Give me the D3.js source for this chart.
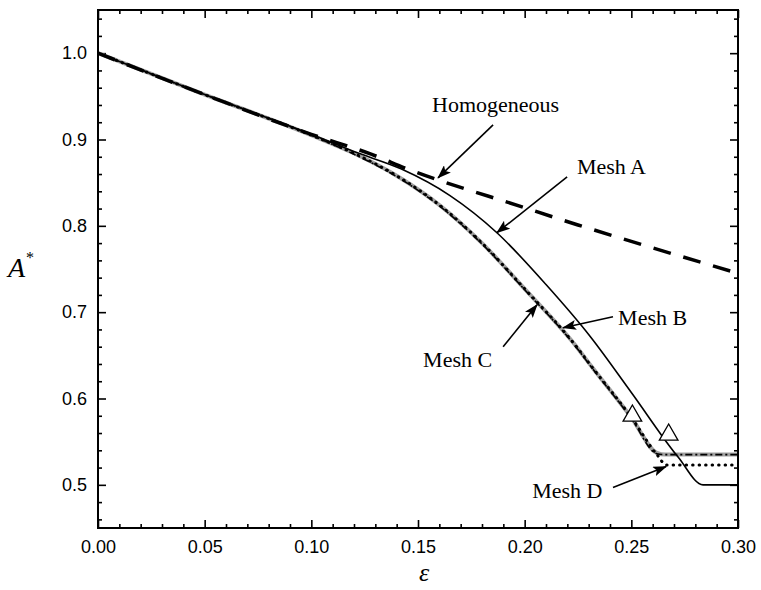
<!DOCTYPE html>
<html>
<head>
<meta charset="utf-8">
<script src="https://cdn.jsdelivr.net/npm/d3@7"></script>
<style>
  html, body { margin: 0; padding: 0; background: #fff; }
  svg { display: block; }
</style>
</head>
<body>
<svg id="chart" width="761" height="590"></svg>
<script>
// ---- data ----
const homogeneous = [[0,1.0],[0.05,0.952],[0.10,0.906],[0.128,0.883],[0.145,0.866],[0.20,0.821],[0.225,0.801],[0.25,0.782],[0.30,0.745]];
const meshA = [[0,1.0],[0.05,0.952],[0.10,0.906],[0.12,0.886],[0.142,0.866],[0.165,0.835],[0.187,0.792],[0.21,0.732],[0.231,0.671],[0.25,0.607],[0.272,0.532],[0.2836,0.50],[0.30,0.50]];
const meshB = [[0,1.0],[0.05,0.952],[0.10,0.905],[0.12,0.884],[0.14,0.858],[0.1606,0.823],[0.18,0.78],[0.20,0.727],[0.223,0.664],[0.232,0.635],[0.25,0.578],[0.262,0.537],[0.266,0.535],[0.30,0.535]];
const meshC = [[0,1.0],[0.05,0.952],[0.10,0.905],[0.12,0.883],[0.14,0.857],[0.1606,0.822],[0.18,0.779],[0.20,0.726],[0.223,0.663],[0.232,0.634],[0.25,0.577],[0.262,0.536],[0.266,0.535],[0.30,0.535]];
const meshD = [[0,1.0],[0.05,0.952],[0.10,0.905],[0.12,0.884],[0.14,0.858],[0.1606,0.823],[0.18,0.78],[0.20,0.727],[0.223,0.664],[0.232,0.635],[0.25,0.578],[0.262,0.535],[0.2665,0.523],[0.30,0.523]];
const triangleMarks = [[0.2505,0.580],[0.2675,0.558]];

const xTicks = [0.00,0.05,0.10,0.15,0.20,0.25,0.30];
const yTicks = [0.5,0.6,0.7,0.8,0.9,1.0];
const xDomain = [0,0.30];
const yDomain = [0.45,1.05];

// annotations: label, text anchor point, arrow tail, arrow tip (data coords)
const annotations = [
  {text:"Homogeneous", at:[0.1566,0.932], from:[0.1852,0.9169], to:[0.1594,0.8556]},
  {text:"Mesh A",      at:[0.2245,0.8602], from:[0.2199,0.8567], to:[0.187,0.792]},
  {text:"Mesh B",      at:[0.2438,0.6854], from:[0.2414,0.6947], to:[0.218,0.682]},
  {text:"Mesh C",      at:[0.1524,0.6368], from:[0.1899,0.660], to:[0.2058,0.7086]},
  {text:"Mesh D",      at:[0.2035,0.4852], from:[0.2414,0.4968], to:[0.2663,0.5211]}
];

// ---- layout ----
const margin = {left:98, top:10, right:761-738, bottom:590-528};
const W = 761, H = 590;
const svg = d3.select("#chart");
const x = d3.scaleLinear().domain(xDomain).range([margin.left, W - margin.right]);
const y = d3.scaleLinear().domain(yDomain).range([H - margin.bottom, margin.top]);

const defs = svg.append("defs");
defs.append("marker").attr("id","arrow")
  .attr("viewBox","0 0 14 10").attr("refX",13).attr("refY",5)
  .attr("markerWidth",14).attr("markerHeight",10)
  .attr("markerUnits","userSpaceOnUse").attr("orient","auto")
  .append("path").attr("d","M0,0 L14,5 L0,10 L3,5 Z").attr("fill","#000");

const clip = defs.append("clipPath").attr("id","plotclip");
clip.append("rect").attr("x",x(0)).attr("y",y(1.05)).attr("width",x(0.30)-x(0)).attr("height",y(0.45)-y(1.05));

// ---- axes ----
const fontTick = "'Liberation Sans', Arial, sans-serif";
function minorRange(a,b,step){ const r=[]; for(let v=a; v<=b+1e-9; v+=step){ r.push(+v.toFixed(4)); } return r; }
const xMinor = minorRange(0,0.30,0.01).filter(v => !xTicks.some(t => Math.abs(t-v)<1e-6));
const yMinor = minorRange(0.46,1.04,0.02).filter(v => !yTicks.some(t => Math.abs(t-v)<1e-6));

function styleAxis(g){
  g.select(".domain").remove();
  g.selectAll("line").attr("stroke","#000").attr("stroke-width",1.6);
  g.selectAll("text").attr("font-family",fontTick).attr("font-size",18).attr("fill","#000");
}
// bottom
svg.append("g").attr("transform",`translate(0,${y(0.45)})`)
  .call(d3.axisBottom(x).tickValues(xTicks).tickSize(-8).tickPadding(12).tickFormat(d3.format(".2f"))).call(styleAxis);
svg.append("g").attr("transform",`translate(0,${y(0.45)})`)
  .call(d3.axisBottom(x).tickValues(xMinor).tickSize(-4).tickFormat("")).call(styleAxis);
// top
svg.append("g").attr("transform",`translate(0,${y(1.05)})`)
  .call(d3.axisTop(x).tickValues(xTicks).tickSize(-8).tickFormat("")).call(styleAxis);
svg.append("g").attr("transform",`translate(0,${y(1.05)})`)
  .call(d3.axisTop(x).tickValues(xMinor).tickSize(-4).tickFormat("")).call(styleAxis);
// left
svg.append("g").attr("transform",`translate(${x(0)},0)`)
  .call(d3.axisLeft(y).tickValues(yTicks).tickSize(-8).tickPadding(11).tickFormat(d3.format(".1f"))).call(styleAxis);
svg.append("g").attr("transform",`translate(${x(0)},0)`)
  .call(d3.axisLeft(y).tickValues(yMinor).tickSize(-4).tickFormat("")).call(styleAxis);
// right
svg.append("g").attr("transform",`translate(${x(0.30)},0)`)
  .call(d3.axisRight(y).tickValues(yTicks).tickSize(-8).tickFormat("")).call(styleAxis);
svg.append("g").attr("transform",`translate(${x(0.30)},0)`)
  .call(d3.axisRight(y).tickValues(yMinor).tickSize(-4).tickFormat("")).call(styleAxis);

// ---- series ----
const line = d3.line().x(d => x(d[0])).y(d => y(d[1])).curve(d3.curveMonotoneX);
const plot = svg.append("g").attr("clip-path","url(#plotclip)");

plot.append("path").datum(meshB).attr("d",line).attr("fill","none")
  .attr("stroke","#a0a0a0").attr("stroke-width",4);
plot.append("path").datum(meshC).attr("d",line).attr("fill","none")
  .attr("stroke","#000").attr("stroke-width",1.6).attr("stroke-dasharray","7,3,2,3");
plot.append("path").datum(meshD).attr("d",line).attr("fill","none")
  .attr("stroke","#000").attr("stroke-width",3).attr("stroke-linecap","round").attr("stroke-dasharray","0.5,6");
plot.append("path").datum(meshA).attr("d",line).attr("fill","none")
  .attr("stroke","#000").attr("stroke-width",1.6);
plot.append("path").datum(homogeneous).attr("d",line).attr("fill","none")
  .attr("stroke","#000").attr("stroke-width",3.5).attr("stroke-dasharray","18,13");

plot.selectAll("path.tri").data(triangleMarks).enter().append("path").attr("class","tri")
  .attr("d", d3.symbol().type(d3.symbolTriangle).size(150))
  .attr("transform", d => `translate(${x(d[0])},${y(d[1])})`)
  .attr("fill","#fff").attr("stroke","#000").attr("stroke-width",1.3);

// frame
svg.append("rect").attr("x",x(0)).attr("y",y(1.05)).attr("width",x(0.30)-x(0)).attr("height",y(0.45)-y(1.05))
  .attr("fill","none").attr("stroke","#000").attr("stroke-width",2);

// ---- annotations ----
const fontSerif = "'Liberation Serif', 'Times New Roman', serif";
const ann = svg.append("g");
ann.selectAll("line").data(annotations).enter().append("line")
  .attr("x1", d => x(d.from[0])).attr("y1", d => y(d.from[1]))
  .attr("x2", d => x(d.to[0])).attr("y2", d => y(d.to[1]))
  .attr("stroke","#000").attr("stroke-width",1.6).attr("marker-end","url(#arrow)");
ann.selectAll("text").data(annotations).enter().append("text")
  .attr("x", d => x(d.at[0])).attr("y", d => y(d.at[1]))
  .attr("font-family",fontSerif).attr("font-size",22).attr("fill","#000")
  .text(d => d.text);

// ---- axis titles ----
const yt = svg.append("text").attr("x",8).attr("y",277)
  .attr("font-family",fontSerif).attr("font-style","italic").attr("font-size",28);
yt.append("tspan").text("A");
yt.append("tspan").attr("dx",1).attr("dy",-14).attr("font-size",16).attr("font-style","normal").text("*");

svg.append("text").attr("x",(x(0)+x(0.30))/2 + 6).attr("y",581).attr("text-anchor","middle")
  .attr("font-family",fontSerif).attr("font-style","italic").attr("font-size",26).text("ε");
</script>
</body>
</html>
